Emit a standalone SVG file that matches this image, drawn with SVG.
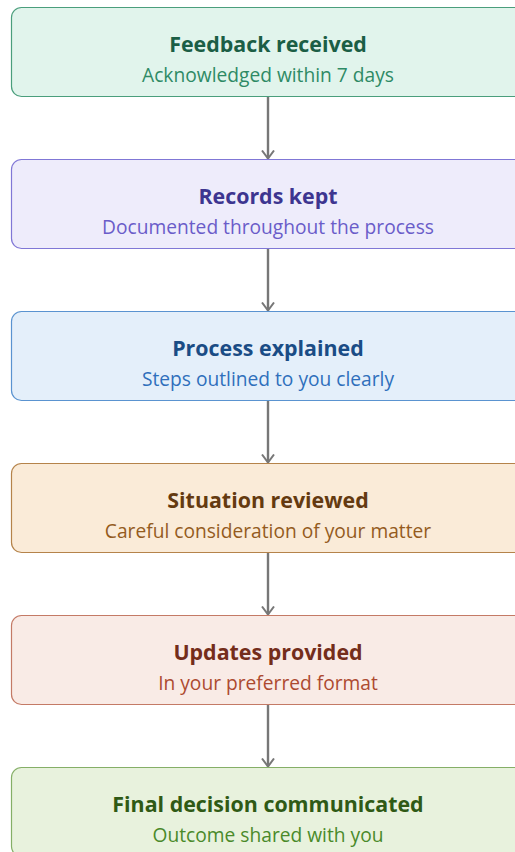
<svg xmlns="http://www.w3.org/2000/svg" width="515" height="852" viewBox="0 0 515 852">
  <defs>
    <marker id="arrow" viewBox="0 0 10 14" refX="9" refY="7" markerWidth="10" markerHeight="14" markerUnits="userSpaceOnUse" orient="auto">
      <path d="M1,1 L9,7 L1,13" fill="none" stroke="#777777" stroke-width="2"/>
    </marker>
    <style>
      .box { stroke-width: 1.2; }
      .title { font-family: "Open Sans", "Noto Sans", sans-serif; font-weight: 700; font-size: 21.4px; text-anchor: middle; }
      .sub { font-family: "Open Sans", "Noto Sans", sans-serif; font-weight: 400; font-size: 19.2px; text-anchor: middle; }
      .edge { stroke: #777777; stroke-width: 2.4; fill: none; }
    </style>
  </defs>
  <rect width="515" height="852" fill="#ffffff"/>

  <g id="connectors">
    <line class="edge" x1="268" y1="96.5" x2="268" y2="158.5" marker-end="url(#arrow)"/>
    <line class="edge" x1="268" y1="248.5" x2="268" y2="310.5" marker-end="url(#arrow)"/>
    <line class="edge" x1="268" y1="400.5" x2="268" y2="462.5" marker-end="url(#arrow)"/>
    <line class="edge" x1="268" y1="552.5" x2="268" y2="614.5" marker-end="url(#arrow)"/>
    <line class="edge" x1="268" y1="704.5" x2="268" y2="766.5" marker-end="url(#arrow)"/>
  </g>

  <g id="feedback-received">
    <rect class="box" x="11.5" y="7.5" width="513" height="89" rx="10" fill="#e1f4ec" stroke="#4a9e7c"/>
    <text class="title" x="268" y="52" fill="#1b5e45">Feedback received</text>
    <text class="sub" x="268" y="82" fill="#2e8a65">Acknowledged within 7 days</text>
  </g>

  <g id="records-kept">
    <rect class="box" x="11.5" y="159.5" width="513" height="89" rx="10" fill="#eeecfb" stroke="#8077d6"/>
    <text class="title" x="268" y="204" fill="#3d3590">Records kept</text>
    <text class="sub" x="268" y="234" fill="#6a5cc9">Documented throughout the process</text>
  </g>

  <g id="process-explained">
    <rect class="box" x="11.5" y="311.5" width="513" height="89" rx="10" fill="#e4effa" stroke="#5a93d0"/>
    <text class="title" x="268" y="356" fill="#1a4c85">Process explained</text>
    <text class="sub" x="268" y="386" fill="#2f6fbc">Steps outlined to you clearly</text>
  </g>

  <g id="situation-reviewed">
    <rect class="box" x="11.5" y="463.5" width="513" height="89" rx="10" fill="#faebd8" stroke="#b5834a"/>
    <text class="title" x="268" y="508" fill="#643a10">Situation reviewed</text>
    <text class="sub" x="268" y="538" fill="#945b1e">Careful consideration of your matter</text>
  </g>

  <g id="updates-provided">
    <rect class="box" x="11.5" y="615.5" width="513" height="89" rx="10" fill="#f9ebe6" stroke="#c47a66"/>
    <text class="title" x="268" y="660" fill="#742d1b">Updates provided</text>
    <text class="sub" x="268" y="690" fill="#ad4a30">In your preferred format</text>
  </g>

  <g id="final-decision-communicated">
    <rect class="box" x="11.5" y="767.5" width="513" height="89" rx="10" fill="#e8f2dd" stroke="#85af67"/>
    <text class="title" x="268" y="812" fill="#2f5a15">Final decision communicated</text>
    <text class="sub" x="268" y="842" fill="#4a8a2a">Outcome shared with you</text>
  </g>
</svg>
